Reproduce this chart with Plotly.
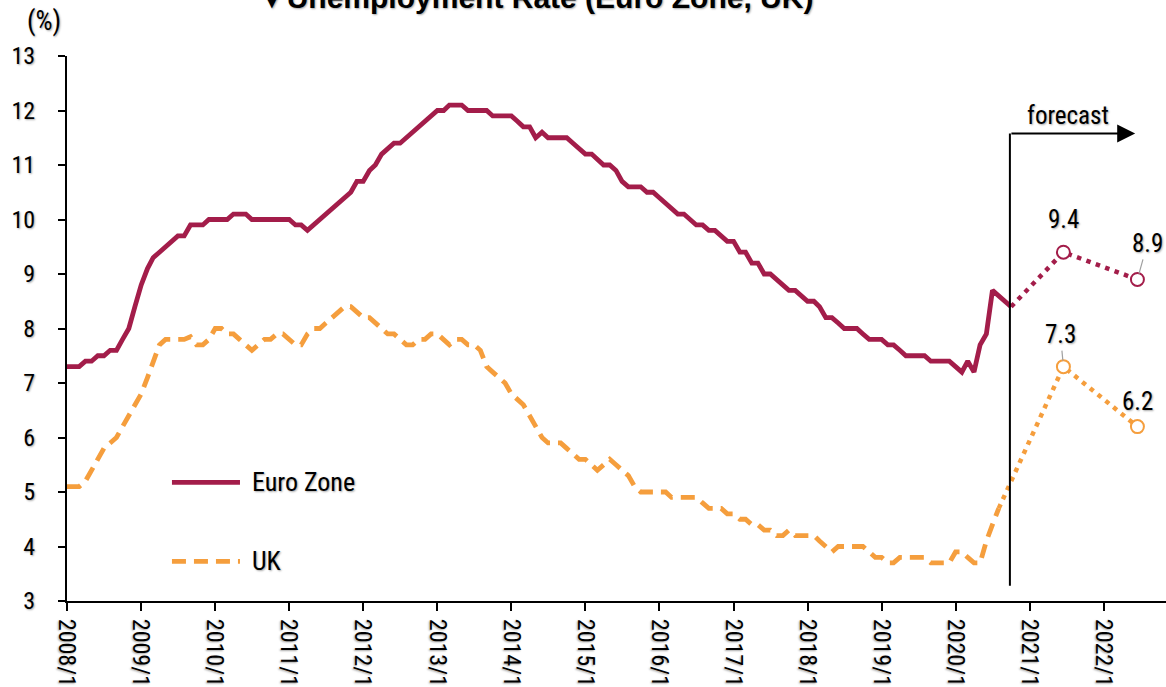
import pandas as pd
import plotly.graph_objects as go

# ---------------- data ----------------
start_month = "2008-01-01"

euro_zone = [
    7.3, 7.3, 7.3, 7.4, 7.4, 7.5, 7.5, 7.6, 7.6, 7.8, 8.0, 8.4,          # 2008
    8.8, 9.1, 9.3, 9.4, 9.5, 9.6, 9.7, 9.7, 9.9, 9.9, 9.9, 10.0,         # 2009
    10.0, 10.0, 10.0, 10.1, 10.1, 10.1, 10.0, 10.0, 10.0, 10.0, 10.0, 10.0,  # 2010
    10.0, 9.9, 9.9, 9.8, 9.9, 10.0, 10.1, 10.2, 10.3, 10.4, 10.5, 10.7,  # 2011
    10.7, 10.9, 11.0, 11.2, 11.3, 11.4, 11.4, 11.5, 11.6, 11.7, 11.8, 11.9,  # 2012
    12.0, 12.0, 12.1, 12.1, 12.1, 12.0, 12.0, 12.0, 12.0, 11.9, 11.9, 11.9,  # 2013
    11.9, 11.8, 11.7, 11.7, 11.5, 11.6, 11.5, 11.5, 11.5, 11.5, 11.4, 11.3,  # 2014
    11.2, 11.2, 11.1, 11.0, 11.0, 10.9, 10.7, 10.6, 10.6, 10.6, 10.5, 10.5,  # 2015
    10.4, 10.3, 10.2, 10.1, 10.1, 10.0, 9.9, 9.9, 9.8, 9.8, 9.7, 9.6,    # 2016
    9.6, 9.4, 9.4, 9.2, 9.2, 9.0, 9.0, 8.9, 8.8, 8.7, 8.7, 8.6,          # 2017
    8.5, 8.5, 8.4, 8.2, 8.2, 8.1, 8.0, 8.0, 8.0, 7.9, 7.8, 7.8,          # 2018
    7.8, 7.7, 7.7, 7.6, 7.5, 7.5, 7.5, 7.5, 7.4, 7.4, 7.4, 7.4,          # 2019
    7.3, 7.2, 7.4, 7.2, 7.7, 7.9, 8.7, 8.6, 8.5, 8.4,                    # 2020 (to Oct)
]

uk = [
    5.1, 5.1, 5.1, 5.2, 5.4, 5.6, 5.8, 5.9, 6.0, 6.2, 6.4, 6.6,          # 2008
    6.8, 7.1, 7.4, 7.7, 7.8, 7.8, 7.8, 7.8, 7.85, 7.7, 7.7, 7.8,         # 2009
    8.0, 8.0, 7.9, 7.9, 7.8, 7.7, 7.6, 7.7, 7.8, 7.8, 7.9, 7.9,          # 2010
    7.8, 7.7, 7.7, 7.9, 8.0, 8.0, 8.1, 8.2, 8.3, 8.4, 8.4, 8.3,          # 2011
    8.2, 8.2, 8.1, 8.0, 7.9, 7.9, 7.8, 7.7, 7.7, 7.8, 7.8, 7.9,          # 2012
    7.9, 7.8, 7.7, 7.8, 7.8, 7.7, 7.7, 7.6, 7.3, 7.2, 7.1, 7.0,          # 2013
    6.8, 6.7, 6.6, 6.4, 6.2, 6.0, 5.9, 5.9, 5.9, 5.8, 5.7, 5.6,          # 2014
    5.6, 5.5, 5.4, 5.5, 5.6, 5.5, 5.4, 5.3, 5.1, 5.0, 5.0, 5.0,          # 2015
    5.0, 5.0, 4.9, 4.9, 4.9, 4.9, 4.9, 4.8, 4.7, 4.7, 4.7, 4.6,          # 2016
    4.6, 4.5, 4.5, 4.4, 4.4, 4.3, 4.3, 4.2, 4.2, 4.3, 4.2, 4.2,          # 2017
    4.2, 4.2, 4.1, 4.0, 3.9, 4.0, 4.0, 4.0, 4.0, 4.0, 3.9, 3.8,          # 2018
    3.8, 3.7, 3.7, 3.8, 3.8, 3.8, 3.8, 3.8, 3.7, 3.7, 3.7, 3.7,          # 2019
    3.9, 3.9, 3.8, 3.7, 3.7, 4.1, 4.4, 4.7,                              # 2020 (to Aug)
]

forecast_dates = ["2021-06-16", "2022-06-16"]
euro_forecast = [9.4, 8.9]
uk_forecast = [7.3, 6.2]

tick_dates = [f"{y}-01-01" for y in range(2008, 2023)]
tick_labels = [f"{y}/1" for y in range(2008, 2023)]

forecast_label = "forecast"
title_text = "▼Unemployment Rate (Euro Zone, UK)"

# ---------------- styling ----------------
EURO_COLOR = "#A31D4A"
UK_COLOR = "#F59E3D"
FONT = "Liberation Sans Narrow, Arial Narrow, Roboto Condensed, Liberation Sans, sans-serif"
SHADOW = "1px 1px 2px rgba(0,0,0,0.35)"

euro_dates = pd.date_range(start_month, periods=len(euro_zone), freq="MS")
uk_dates = pd.date_range(start_month, periods=len(uk), freq="MS")

fig = go.Figure()

# actual series
fig.add_trace(go.Scatter(x=euro_dates, y=euro_zone, mode="lines", name="Euro Zone",
                         line=dict(color=EURO_COLOR, width=4.8), showlegend=False))
fig.add_trace(go.Scatter(x=uk_dates, y=uk, mode="lines", name="UK",
                         line=dict(color=UK_COLOR, width=4.8, dash="14px,8px"), showlegend=False))

# forecast dotted connectors (from last actual)
fig.add_trace(go.Scatter(x=[euro_dates[-1]] + [pd.Timestamp(d) for d in forecast_dates],
                         y=[euro_zone[-1]] + euro_forecast, mode="lines",
                         line=dict(color=EURO_COLOR, width=4.5, dash="4.5px,5.5px"), showlegend=False))
fig.add_trace(go.Scatter(x=[uk_dates[-1]] + [pd.Timestamp(d) for d in forecast_dates],
                         y=[uk[-1]] + uk_forecast, mode="lines",
                         line=dict(color=UK_COLOR, width=4.5, dash="4.5px,5.5px"), showlegend=False))

# forecast markers
fig.add_trace(go.Scatter(x=forecast_dates, y=euro_forecast, mode="markers",
                         marker=dict(symbol="circle", size=13, color="white",
                                     line=dict(color=EURO_COLOR, width=2)), showlegend=False))
fig.add_trace(go.Scatter(x=forecast_dates, y=uk_forecast, mode="markers",
                         marker=dict(symbol="circle", size=13, color="white",
                                     line=dict(color=UK_COLOR, width=2)), showlegend=False))

lab_font = dict(family=FONT, size=25, color="black", shadow=SHADOW)

# value labels
fig.add_annotation(x=forecast_dates[0], y=euro_forecast[0], text=f"{euro_forecast[0]}",
                   showarrow=False, yshift=33, xanchor="center", font=lab_font)
fig.add_annotation(x=forecast_dates[1], y=euro_forecast[1], text=f"{euro_forecast[1]}",
                   showarrow=True, ax=10, ay=-36, arrowhead=0, arrowwidth=1.2,
                   arrowcolor="#A0A0A0", standoff=6, font=lab_font)
fig.add_annotation(x=forecast_dates[0], y=uk_forecast[0], text=f"{uk_forecast[0]}",
                   showarrow=True, ax=-3, ay=-32, arrowhead=0, arrowwidth=1.2,
                   arrowcolor="#A0A0A0", standoff=6, font=lab_font)
fig.add_annotation(x=forecast_dates[1], y=uk_forecast[1], text=f"{uk_forecast[1]}",
                   showarrow=False, yshift=25, xanchor="center", font=lab_font)

# forecast marker: vertical line + arrow
fstart = euro_dates[-1] - pd.Timedelta(days=6)
fig.add_shape(type="line", x0=fstart, x1=fstart, y0=3.28, y1=11.58,
              line=dict(color="black", width=2))
fig.add_annotation(x="2022-06-05", y=11.58, ax=fstart, ay=11.58, axref="x", ayref="y",
                   xref="x", yref="y", text="", showarrow=True, arrowhead=2,
                   arrowsize=1.8, arrowwidth=2, arrowcolor="black", standoff=0)
fig.add_annotation(x="2021-07-10", y=11.58, text=forecast_label, showarrow=False,
                   xanchor="center", yanchor="bottom", yshift=1,
                   font=dict(family=FONT, size=25, color="black", shadow=SHADOW))

# manual legend
leg_font = dict(family=FONT, size=26, color="black", shadow=SHADOW)
fig.add_shape(type="line", xref="paper", yref="paper", x0=0.0955, x1=0.1574, y0=0.2178, y1=0.2178,
              line=dict(color=EURO_COLOR, width=4.8))
fig.add_shape(type="line", xref="paper", yref="paper", x0=0.0955, x1=0.1574, y0=0.0728, y1=0.0728,
              line=dict(color=UK_COLOR, width=4.8, dash="14px,8px"))
fig.add_annotation(xref="paper", yref="paper", x=0.1665, y=0.2178, text="Euro Zone", showarrow=False,
                   xanchor="left", yanchor="middle", font=leg_font)
fig.add_annotation(xref="paper", yref="paper", x=0.1665, y=0.0728, text="UK", showarrow=False,
                   xanchor="left", yanchor="middle", font=leg_font)

# unit label
fig.add_annotation(xref="paper", yref="paper", x=-0.0205, y=1.0, yshift=35, text="(%)", showarrow=False,
                   xanchor="center", yanchor="middle",
                   font=dict(family=FONT, size=27, color="black", shadow=SHADOW))

# clipped title
fig.add_annotation(xref="paper", yref="paper", x=0.4262, y=1.0, yshift=40, yanchor="bottom",
                   xanchor="center", text=f"<b>{title_text}</b>", showarrow=False,
                   font=dict(family="Liberation Sans, Arial, sans-serif", size=30, color="black", shadow=SHADOW))

fig.update_layout(
    width=1166, height=687,
    margin=dict(l=67, r=0, t=56, b=86),
    paper_bgcolor="white", plot_bgcolor="white",
    showlegend=False,
)
fig.update_xaxes(
    type="date", range=["2008-01-01", "2022-11-04"],
    tickvals=tick_dates, ticktext=tick_labels, tickangle=90,
    ticks="outside", ticklen=8, tickwidth=2, tickcolor="black",
    showline=True, linecolor="black", linewidth=2, showgrid=False, zeroline=False,
    ticklabelstandoff=3,
    tickfont=dict(family=FONT, size=24, color="black", shadow=SHADOW),
)
fig.update_yaxes(
    range=[3, 13], tickvals=list(range(3, 14)), ticks="outside", ticklen=7, tickwidth=2,
    tickcolor="black", showline=True, linecolor="black", linewidth=2, showgrid=False,
    zeroline=False, ticklabelstandoff=18,
    tickfont=dict(family=FONT, size=24, color="black", shadow=SHADOW),
)

fig.write_html("out.html", config={"displayModeBar": False},
               post_script="document.body.style.margin='0';document.body.style.overflow='hidden';")
